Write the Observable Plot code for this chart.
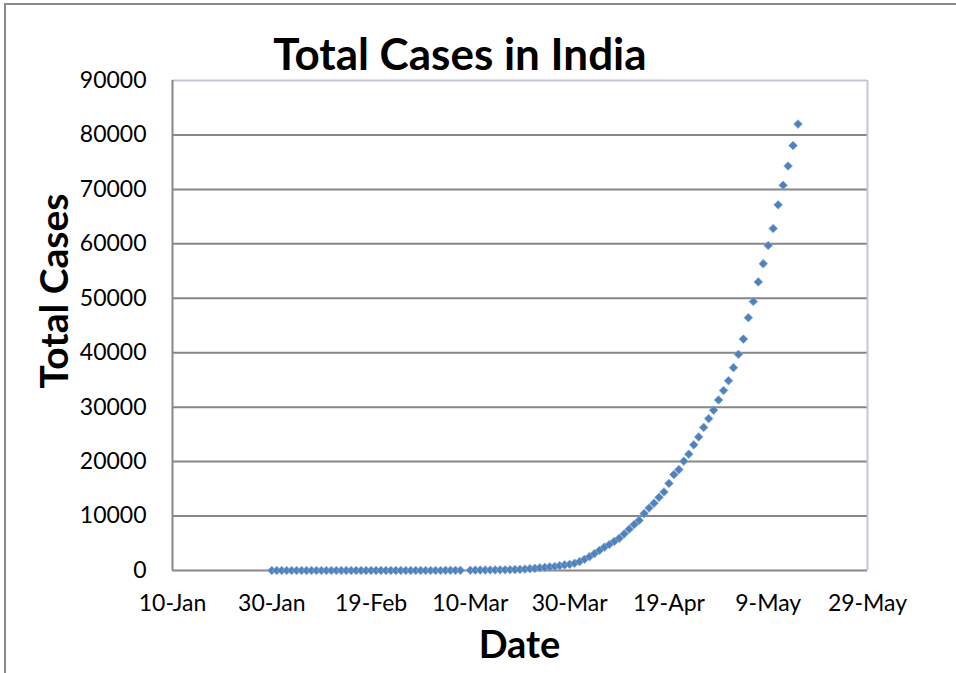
<!DOCTYPE html>
<html>
<head>
<meta charset="utf-8">
<script src="https://cdn.jsdelivr.net/npm/d3@7"></script>
<script src="https://cdn.jsdelivr.net/npm/@observablehq/plot@0.6"></script>
<style>
  html, body { margin: 0; padding: 0; background: #fff; }
  #wrap { position: relative; width: 956px; height: 673px; overflow: hidden; font-family: Lato, "Open Sans", sans-serif; }
  #border { position: absolute; left: 4px; top: 3px; width: 1000px; height: 1000px; border-left: 2px solid #8a8a8a; border-top: 2px solid #8a8a8a; }
  #title { position: absolute; left: 0; width: 920px; top: 31px; text-align: center; font-weight: 700; font-size: 44px; color: #000; line-height: 1; }
  #ylabel { position: absolute; left: 53px; top: 291px; transform: translate(-50%, -50%) rotate(-90deg); font-weight: 700; font-size: 39px; white-space: nowrap; color: #000; line-height: 1; }
  #xlabel { position: absolute; left: 0; width: 1039px; top: 624px; text-align: center; font-weight: 700; font-size: 38px; color: #000; line-height: 1; }
  #chart { position: absolute; left: 0; top: 0; }
</style>
</head>
<body>
<div id="wrap">
  <div id="border"></div>
  <div id="chart"></div>
  <div id="title">Total Cases in India</div>
  <div id="ylabel">Total Cases</div>
  <div id="xlabel">Date</div>
</div>
<script>
// Dates (one point per day; 9-Mar has no point in the reference)
const dates = [
  "2020-01-30","2020-01-31","2020-02-01","2020-02-02","2020-02-03","2020-02-04","2020-02-05","2020-02-06",
  "2020-02-07","2020-02-08","2020-02-09","2020-02-10","2020-02-11","2020-02-12","2020-02-13","2020-02-14",
  "2020-02-15","2020-02-16","2020-02-17","2020-02-18","2020-02-19","2020-02-20","2020-02-21","2020-02-22",
  "2020-02-23","2020-02-24","2020-02-25","2020-02-26","2020-02-27","2020-02-28","2020-02-29","2020-03-01",
  "2020-03-02","2020-03-03","2020-03-04","2020-03-05","2020-03-06","2020-03-07","2020-03-08",
  "2020-03-10","2020-03-11","2020-03-12","2020-03-13","2020-03-14","2020-03-15","2020-03-16","2020-03-17",
  "2020-03-18","2020-03-19","2020-03-20","2020-03-21","2020-03-22","2020-03-23","2020-03-24","2020-03-25",
  "2020-03-26","2020-03-27","2020-03-28","2020-03-29","2020-03-30","2020-03-31","2020-04-01","2020-04-02",
  "2020-04-03","2020-04-04","2020-04-05","2020-04-06","2020-04-07","2020-04-08","2020-04-09","2020-04-10",
  "2020-04-11","2020-04-12","2020-04-13","2020-04-14","2020-04-15","2020-04-16","2020-04-17","2020-04-18",
  "2020-04-19","2020-04-20","2020-04-21","2020-04-22","2020-04-23","2020-04-24","2020-04-25","2020-04-26",
  "2020-04-27","2020-04-28","2020-04-29","2020-04-30","2020-05-01","2020-05-02","2020-05-03","2020-05-04",
  "2020-05-05","2020-05-06","2020-05-07","2020-05-08","2020-05-09","2020-05-10","2020-05-11","2020-05-12",
  "2020-05-13","2020-05-14","2020-05-15"
];
// Total cases
const totals = [
  1,1,1,1,2,3,3,3,
  3,3,3,3,3,3,3,3,
  3,3,3,3,3,3,3,3,
  3,3,3,3,3,3,3,3,
  3,5,6,28,30,31,34,
  48,63,71,81,91,102,112,126,
  146,171,198,256,334,403,503,571,
  657,735,886,1024,1139,1326,1635,2059,
  2545,3105,3684,4293,4777,5350,5915,6728,
  7599,8453,9211,10454,11485,12371,13432,14425,
  15997,17615,18539,20080,21370,23077,24530,26283,
  27890,29451,31324,33062,34863,37257,39699,42505,
  46437,49400,53007,56351,59695,62808,67161,70768,
  74292,78055,81997
];
const xDomain = ["2020-01-10", "2020-05-29"];
const xTicks = ["2020-01-10","2020-01-30","2020-02-19","2020-03-10","2020-03-30","2020-04-19","2020-05-09","2020-05-29"];
const yTicks = [0,10000,20000,30000,40000,50000,60000,70000,80000,90000];
const gridValues = [10000,20000,30000,40000,50000,60000,70000,80000];

const toDate = s => new Date(s + "T00:00:00Z");
const data = dates.map((d, i) => ({date: toDate(d), total: totals[i]}));
const x0 = toDate(xDomain[0]), x1 = toDate(xDomain[1]);

const chart = Plot.plot({
  width: 956,
  height: 673,
  marginLeft: 172,
  marginRight: 89,
  marginTop: 80,
  marginBottom: 103,
  style: {fontFamily: "Lato, 'Open Sans', sans-serif", fontSize: "23px", color: "#000", background: "transparent", overflow: "visible"},
  x: {type: "utc", domain: [x0, x1], ticks: xTicks.map(toDate), tickFormat: d3.utcFormat("%-d-%b"), label: null},
  y: {domain: [0, 90000], ticks: yTicks, tickFormat: d => String(d), label: null},
  marks: [
    Plot.ruleY(gridValues, {stroke: "#878787", strokeWidth: 2}),
    Plot.ruleY([90000], {stroke: "#c9c2da", strokeWidth: 2}),
    Plot.ruleX([x1], {stroke: "#c9c2da", strokeWidth: 2}),
    Plot.ruleY([0], {stroke: "#878787", strokeWidth: 2}),
    Plot.ruleX([x0], {stroke: "#878787", strokeWidth: 2}),
    Plot.axisX({ticks: xTicks.map(toDate), tickFormat: d3.utcFormat("%-d-%b"), tickSize: 0, tickPadding: 24, label: null, fontSize: 23}),
    Plot.axisY({ticks: yTicks, tickFormat: d => String(d), tickSize: 0, tickPadding: 26, label: null, fontSize: 23}),
    Plot.dot(data, {x: "date", y: "total", symbol: "diamond2", r: 3.9, fill: "#4f81bd", stroke: "#86a9d6", strokeWidth: 0.8})
  ]
});
document.getElementById("chart").appendChild(chart);
</script>
</body>
</html>
